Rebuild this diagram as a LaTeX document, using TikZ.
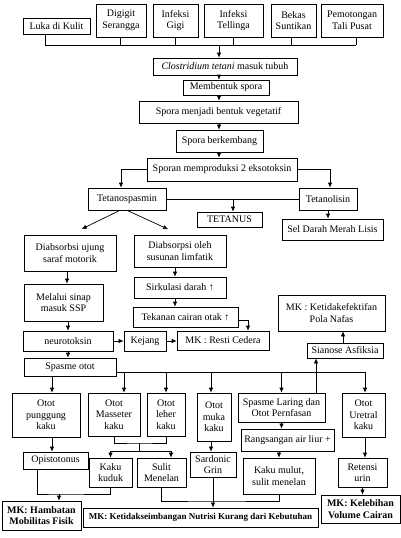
\documentclass[tikz,border=0pt]{standalone}
\usepackage{fontspec}
\setmainfont{Liberation Serif}
\usetikzlibrary{arrows.meta}
\tikzset{
  box/.style 2 args={draw, minimum width=#1pt, minimum height=#2pt, inner sep=0pt,
    align=center, font=\fontsize{10}{11.5}\selectfont},
  mkbox/.style={font=\fontsize{10}{11.5}\selectfont\bfseries},
  arr/.style={-{Latex[length=5pt,width=4.5pt]}},
}
\begin{document}
\begin{tikzpicture}[x=1pt,y=-1pt,line width=0.7pt]
      \useasboundingbox (0,0) rectangle (401,538);
      \node[box={67}{16}] (luka) at (56.5,26) {Luka di Kulit};
      \node[box={50}{33}] (digigit) at (121,20.5) {Digigit\\Serangga};
      \node[box={45}{33}] (gigi) at (175.5,20.5) {Infeksi\\Gigi};
      \node[box={59}{33}] (telinga) at (233.5,20.5) {Infeksi\\Tellinga};
      \node[box={45}{33}] (bekas) at (293.5,20.5) {Bekas\\Suntikan};
      \node[box={62}{33}] (potong) at (352,20.5) {Pemotongan\\Tali Pusat};
      \node[box={144}{17}] (clos) at (225,66.5) {\textit{Clostridium tetani} masuk tubuh};
      \node[box={86}{15}] (bentuk) at (226,87.5) {Membentuk spora};
      \node[box={159}{22}] (veget) at (218.5,112) {Spora menjadi bentuk vegetatif};
      \node[box={87}{22}] (kembang) at (219.5,141) {Spora berkembang};
      \node[box={150}{23}] (sporan) at (222,169.5) {Sporan memproduksi 2 eksotoksin};
      \node[box={78}{22}] (tspas) at (127,199) {Tetanospasmin};
      \node[box={58}{22}] (tlisin) at (328,199) {Tetanolisin};
      \node[box={65}{15}] (tetanus) at (229.5,219.5) {TETANUS};
      \node[box={101}{21}] (sel) at (332.5,229.5) {Sel Darah Merah Lisis};
      \node[box={92}{36}] (absA) at (70,253) {Diabsorbsi ujung\\saraf motorik};
      \node[box={92}{32}] (absB) at (180,251) {Diabsorpsi oleh\\susunan limfatik};
      \node[box={79}{37}] (sinap) at (63.5,302.5) {Melalui sinap\\masuk SSP};
      \node[box={92}{21}] (sirk) at (180,287.5) {Sirkulasi darah ↑};
      \node[box={105}{20}] (tekan) at (185.5,317) {Tekanan cairan otak ↑};
      \node[box={90}{20}] (neuro) at (68,341) {neurotoksin};
      \node[box={42}{20}] (kejang) at (145,341) {Kejang};
      \node[box={92}{19}] (resti) at (223,340.5) {MK : Resti Cedera};
      \node[box={107}{36}] (pola) at (331.5,313) {MK : Ketidakefektifan\\Pola Nafas};
      \node[box={76}{15}] (sianose) at (345,350.5) {Sianose Asfiksia};
      \node[box={92}{18}] (spasme) at (70,367) {Spasme otot};
      \node[box={68}{44}] (punggung) at (46,415) {Otot\\punggung\\kaku};
      \node[box={52}{43}] (masseter) at (114,414.5) {Otot\\Masseter\\kaku};
      \node[box={38}{43}] (leher) at (166,414.5) {Otot\\leher\\kaku};
      \node[box={34}{48}] (muka) at (214,417) {Otot\\muka\\kaku};
      \node[box={87}{29}] (laring) at (281.5,407.5) {Spasme Laring dan\\Otot Pernfasan};
      \node[box={43}{44}] (uretral) at (363.5,415) {Otot\\Uretral\\kaku};
      \node[box={93}{22}] (liur) at (287.5,440) {Rangsangan air liur +};
      \node[box={65}{17}] (opis) at (55.5,460.5) {Opistotonus};
      \node[box={43}{29}] (kuduk) at (110.5,472.5) {Kaku\\kuduk};
      \node[box={49}{29}] (sulit) at (161.5,472.5) {Sulit\\Menelan};
      \node[box={46}{25}] (sardonic) at (213,464.5) {Sardonic\\Grin};
      \node[box={72}{36}] (mulut) at (279,476) {Kaku mulut,\\sulit menelan};
      \node[box={49}{29}] (retensi) at (362.5,472.5) {Retensi\\urin};
      \node[box={79}{29},mkbox] (mkA) at (41.5,515.5) {MK: Hambatan\\Mobilitas Fisik};
      \node[box={235}{19},mkbox,font=\fontsize{9}{11}\selectfont\bfseries] (mkB) at (200.5,517.5) {MK: Ketidakseimbangan Nutrisi Kurang dari Kebutuhan};
      \node[box={79}{28},mkbox] (mkC) at (360.5,509) {MK: Kelebihan\\Volume Cairan};

      \coordinate (bus1) at (0,45);
      \coordinate (mid) at (219,0);
      \foreach \n/\d in {luka/-11.5,digigit/-1,gigi/0,telinga/0,bekas/-2.5,potong/4}
        \draw ([xshift=\d pt]\n.south) -- ([xshift=\d pt]\n.south |- bus1);
      \draw ([xshift=-11.5pt]luka.south |- bus1) -- ([xshift=4pt]potong.south |- bus1);
      \draw[arr] (mid |- bus1) -- (mid |- clos.north);
      \foreach \a/\b in {clos/bentuk,bentuk/veget,veget/kembang,kembang/sporan}
        \draw[arr] (mid |- \a.south) -- (mid |- \b.north);

      \draw[arr] (sporan.west) -| ([xshift=-6pt]tspas.north);
      \draw[arr] (sporan.east) -| ([xshift=2pt]tlisin.north);
      \draw (tspas.east) -- (tlisin.west);
      \draw[arr] ([xshift=3.5pt]tetanus.north |- tspas.east) -- ([xshift=3.5pt]tetanus.north);
      \draw[arr] (tlisin.south) -- (tlisin.south |- sel.north);
      \draw[arr,shorten >=13pt] ([xshift=-7pt]tspas.south) -- (absA.north);
      \draw[arr,shorten >=13pt] (tspas.south) -- (absB.north);

      \draw[arr] ([xshift=-3pt]absA.south) -- ([xshift=-3pt]absA.south |- sinap.north);
      \draw[arr] (neuro.north |- sinap.south) -- (neuro.north);
      \draw[arr] (neuro.east) -- (neuro.east -| kejang.west);
      \draw[arr] (kejang.east) -- (kejang.east -| resti.west);
      \draw[arr] ([xshift=-5pt]absB.south) -- ([xshift=-5pt]absB.south |- sirk.north);
      \draw[arr] ([xshift=-5pt]sirk.south) -- ([xshift=-5pt]sirk.south |- tekan.north);
      \draw[arr] ([yshift=-3pt]tekan.east) -| ([xshift=25pt]resti.north);
      \draw[arr] ([xshift=-2pt]sianose.north) -- ([xshift=-2pt]sianose.north |- pola.south);
      \draw[arr] (neuro.south) -- (neuro.south |- spasme.north);

      \coordinate (bus2) at (0,372);
      \draw (spasme.east |- bus2) -- ([xshift=1.5pt]uretral.north |- bus2);
      \foreach \n/\d in {masseter/10,leher/0,muka/-3,laring/0,uretral/1.5}
        \draw[arr] ([xshift=\d pt]\n.north |- bus2) -- ([xshift=\d pt]\n.north);
      \draw[arr] ([xshift=6pt]punggung.north |- spasme.south) -- ([xshift=6pt]punggung.north);
      \draw[arr] ([xshift=34.5pt]laring.north) -- ([xshift=34.5pt]laring.north |- sianose.south);

      \draw[arr] ([xshift=6pt]punggung.south) -- ([xshift=6pt]punggung.south |- opis.north);
      \draw[arr] ([xshift=-3pt]muka.south) -- ([xshift=-3pt]muka.south |- sardonic.north);
      \draw[arr] (laring.south) -- (laring.south |- liur.north);
      \draw[arr] (mulut.north |- liur.south) -- (mulut.north);
      \draw[arr] ([xshift=1.5pt]uretral.south) -- ([xshift=1.5pt]uretral.south |- retensi.north);
      \draw[arr] (retensi.south) -- (retensi.south |- mkC.north);

      \coordinate (mj) at (139,443);
      \coordinate (kj) at (139,451);
      \draw (masseter.south) |- (mj) -| (leher.south);
      \draw (mj) -- (kj);
      \draw[arr] (kj) -| (kuduk.north);
      \draw[arr] (kj) -| ([xshift=9.5pt]sulit.north);

      \coordinate (hj) at (59,494);
      \draw ([xshift=-18.5pt]opis.south) |- (hj) -| (kuduk.south);
      \draw[arr] (hj) -- (hj |- mkA.north);
      \coordinate (nj) at (213,501);
      \draw (sulit.south) |- (nj) -| (mulut.south);
      \draw[arr] (sardonic.south) -- (sardonic.south |- mkB.north);
\end{tikzpicture}
\end{document}
